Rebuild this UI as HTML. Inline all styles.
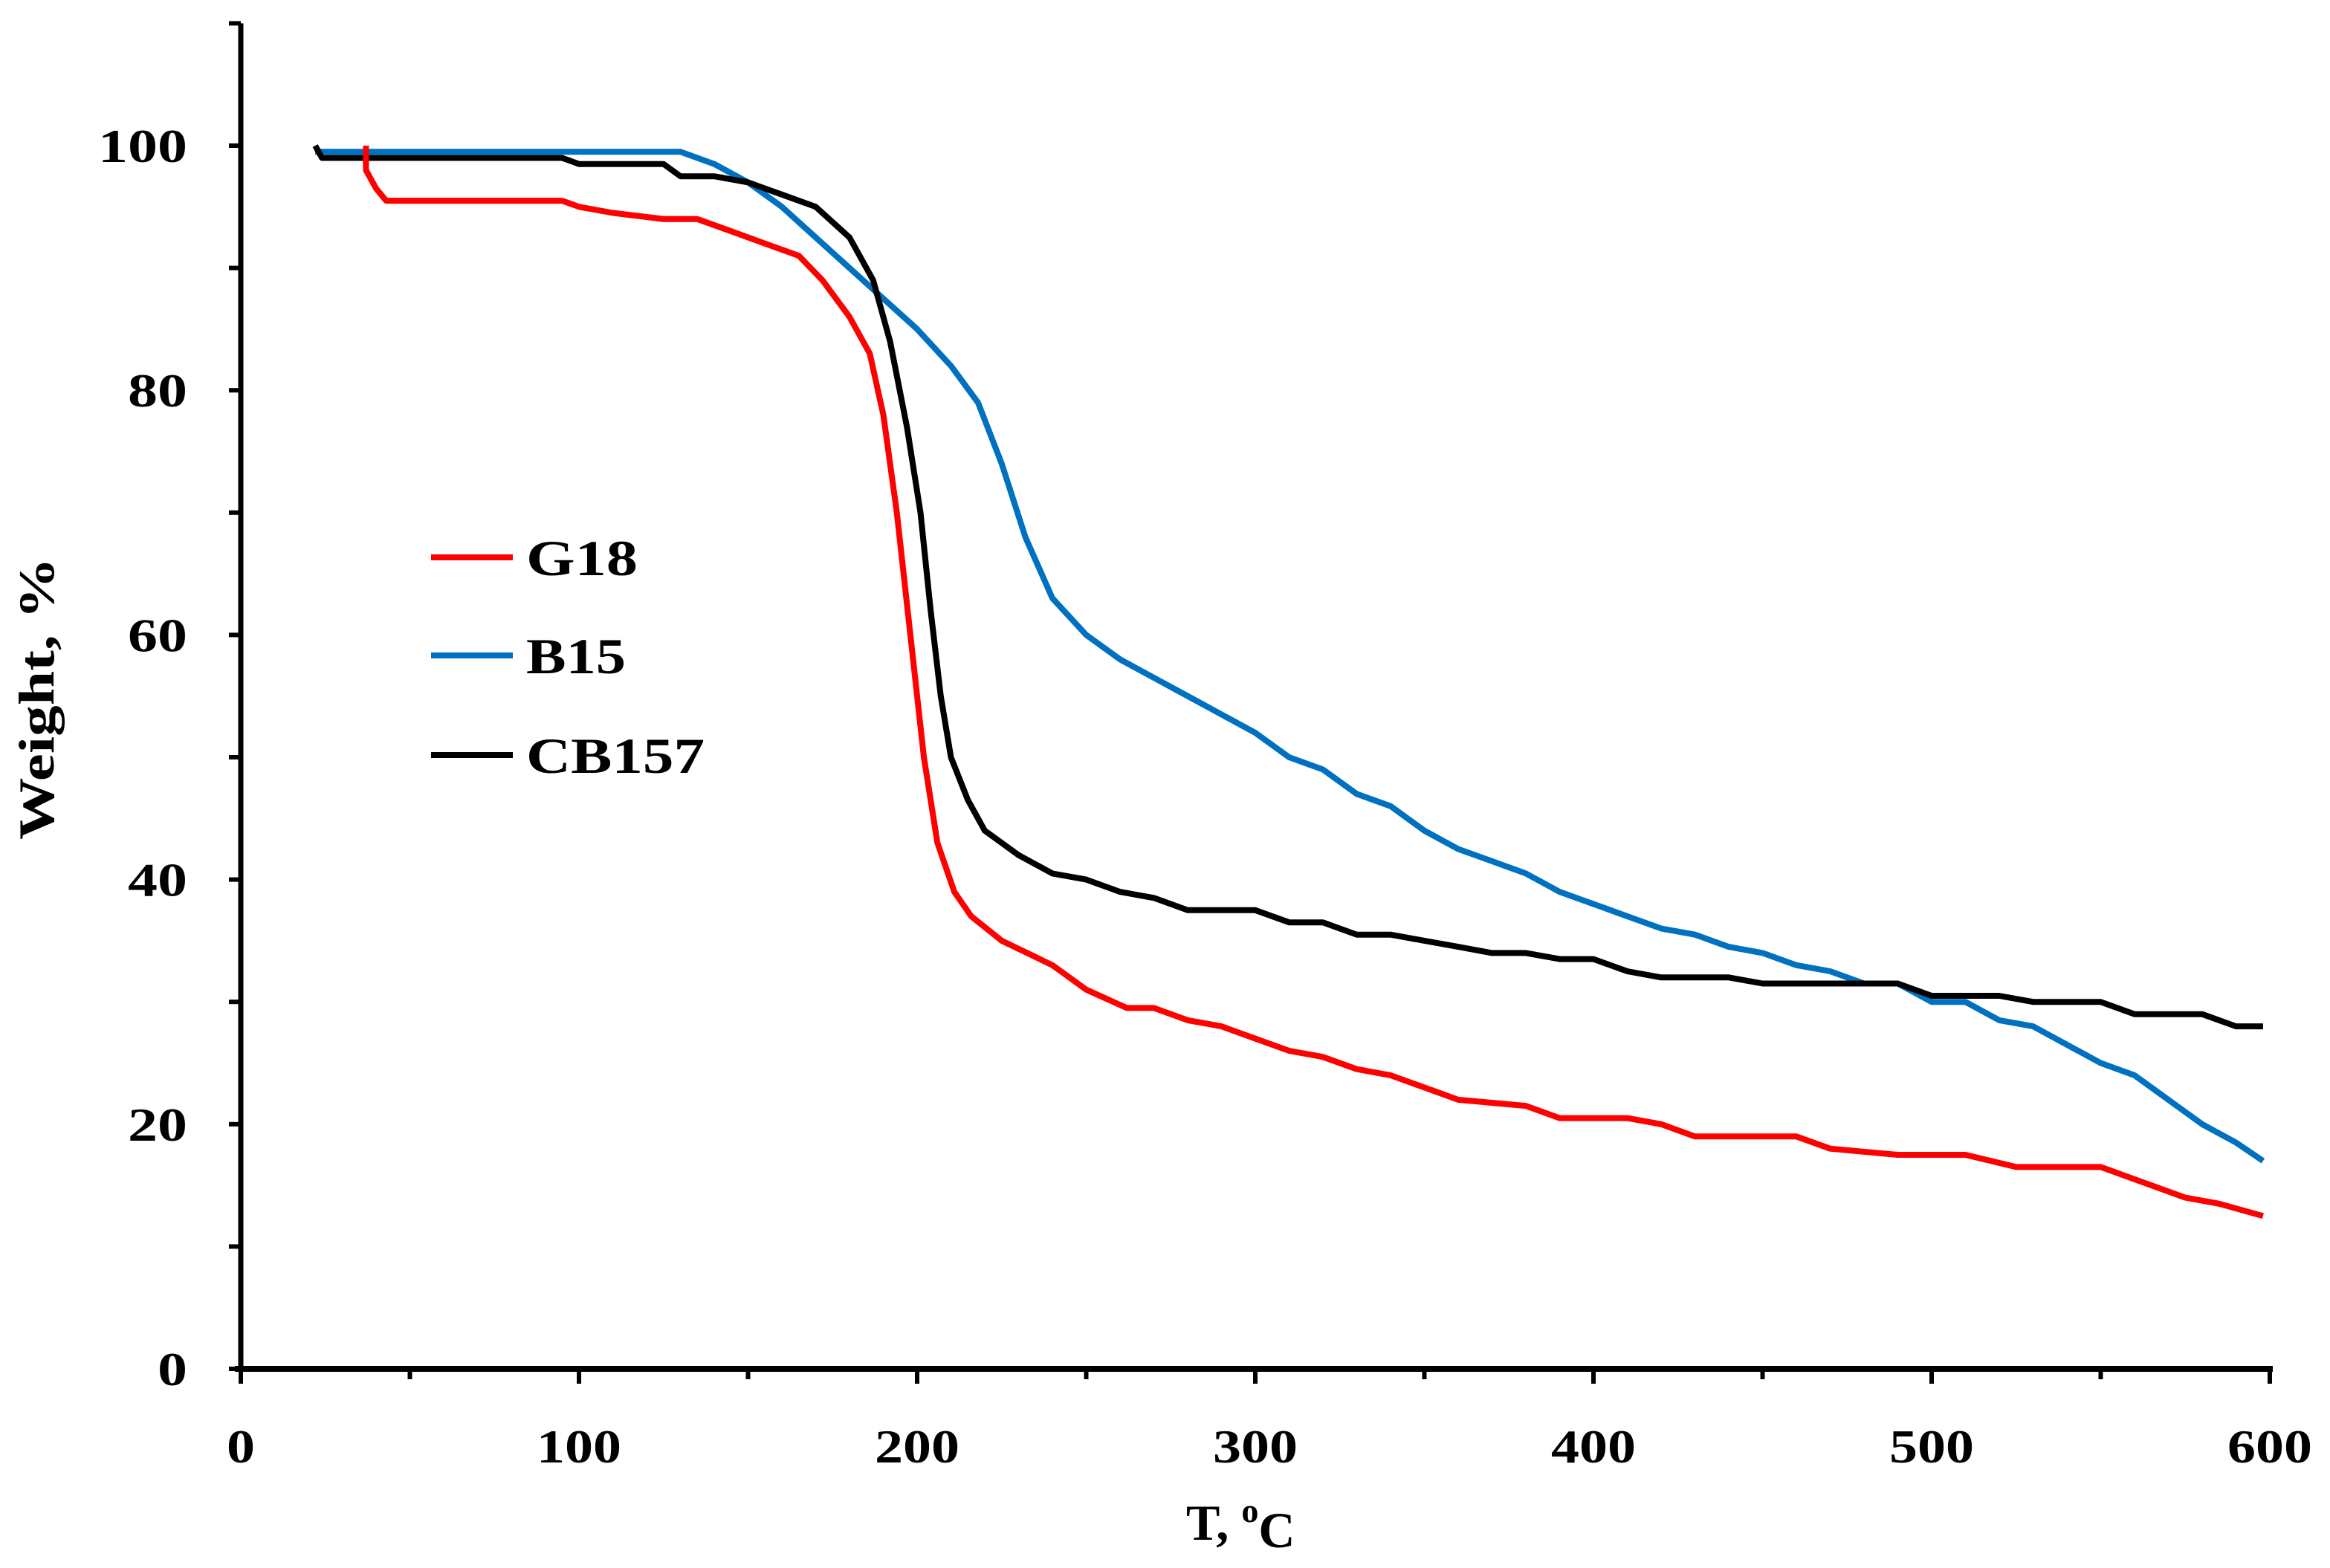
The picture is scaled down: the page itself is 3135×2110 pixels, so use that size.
<!DOCTYPE html>
<html><head><meta charset="utf-8"><style>
html,body{margin:0;padding:0;background:#fff;}
svg{display:block;}
text{font-family:"Liberation Serif",serif;font-weight:bold;fill:#000;}
</style></head><body>
<svg id="chart" width="3135" height="2110" viewBox="0 0 3135 2110">
<g id="axes"></g>
<g id="series"></g>
<g id="legend"></g>
</svg>
<script>
const xTicks=[0,100,200,300,400,500,600];
const yTicks=[0,20,40,60,80,100];
const seriesNames=["G18","B15","CB157"];
const seriesColors=["#ff0000","#0070c0","#000000"];
const g18T=[37,37,40,43,95,100,110,125,135,145,155,165,172,180,186,190,194,198,202,206,211,216,225,240,250,262,270,280,290,300,310,320,330,340,350,360,380,390,410,420,430,460,470,490,510,525,550,560,575,585,598];
const g18W=[100,98,96.5,95.5,95.5,95,94.5,94,94,93,92,91,89,86,83,78,70,60,50,43,39,37,35,33,31,29.5,29.5,28.5,28,27,26,25.5,24.5,24,23,22,21.5,20.5,20.5,20,19,19,18,17.5,17.5,16.5,16.5,15.5,14,13.5,12.5];
const b15T=[22,130,140,150,160,170,180,190,200,210,218,225,232,240,250,260,270,280,290,300,310,320,330,340,350,360,370,380,390,400,410,420,430,440,450,460,470,480,490,500,510,520,530,540,550,560,570,580,590,598];
const b15W=[99.5,99.5,98.5,97,95,92.5,90,87.5,85,82,79,74,68,63,60,58,56.5,55,53.5,52,50,49,47,46,44,42.5,41.5,40.5,39,38,37,36,35.5,34.5,34,33,32.5,31.5,31.5,30,30,28.5,28,26.5,25,24,22,20,18.5,17];
const cbT=[22,24,95,100,125,130,140,150,160,170,180,187,192,197,201,204,207,210,215,220,230,240,250,260,270,280,300,310,320,330,340,350,360,370,380,390,400,410,420,440,450,490,500,520,530,550,560,580,590,598];
const cbW=[100,99,99,98.5,98.5,97.5,97.5,97,96,95,92.5,89,84,77,70,62,55,50,46.5,44,42,40.5,40,39,38.5,37.5,37.5,36.5,36.5,35.5,35.5,35,34.5,34,34,33.5,33.5,32.5,32,32,31.5,31.5,30.5,30.5,30,30,29,29,28,28];

const NS="http://www.w3.org/2000/svg";
const X0=324,X1=3054,Y0=1842,Y100=196;
const sx=v=>X0+(X1-X0)*v/600;
const sy=v=>Y0-(Y0-Y100)*v/100;
function mk(tag,attrs,parent){const e=document.createElementNS(NS,tag);for(const k in attrs)e.setAttribute(k,attrs[k]);parent.appendChild(e);return e;}
const axes=document.getElementById('axes');
let yAxis=mk('line',{x1:X0,y1:sy(110),x2:X0,y2:Y0,stroke:'#000','stroke-width':7},axes);


let xAxis=mk('line',{x1:X0-8,y1:Y0,x2:X1+4,y2:Y0,stroke:'#000','stroke-width':8},axes);


for(let v=0;v<=110;v+=10){
 let t=mk('line',{x1:X0-16,y1:sy(v),x2:X0,y2:sy(v),stroke:'#000','stroke-width':6},axes);
 
 
}
for(let v=0;v<=600;v+=50){
 let t=mk('line',{x1:sx(v),y1:Y0,x2:sx(v),y2:Y0+(v%100===0?20:14),stroke:'#000','stroke-width':6},axes);
 
 
}
yTicks.forEach(v=>{
 const s=String(v);
 let t=mk('text',{x:252,y:sy(v)+22,'text-anchor':'end','font-size':64,textLength:40*s.length,lengthAdjust:'spacingAndGlyphs'},axes);
 t.textContent=s;
 
 
});
xTicks.forEach(v=>{
 const s=String(v);
 let t=mk('text',{x:sx(v),y:1968,'text-anchor':'middle','font-size':64,textLength:38*s.length,lengthAdjust:'spacingAndGlyphs'},axes);
 t.textContent=s;
 
 
});
let yt=mk('text',{x:0,y:0,'text-anchor':'middle','font-size':68,textLength:380,lengthAdjust:'spacingAndGlyphs',transform:'translate(72,940) rotate(-90)'},axes);
yt.textContent='Weight, %';


let xt=mk('text',{x:1596,y:2072,'font-size':68},axes);
xt.innerHTML='T, <tspan dy="-24" font-size="46">o</tspan><tspan dy="34">C</tspan>';



const ser=document.getElementById('series');
const data=[[g18T,g18W],[b15T,b15W],[cbT,cbW]];
const names=['series-g18','series-b15','series-cb157'];
[1,2,0].forEach(i=>{
 const [T,W]=data[i];
 const d=T.map((t,j)=>(j?'L':'M')+sx(t).toFixed(1)+','+sy(W[j]).toFixed(1)).join(' ');
 let p=mk('path',{d:d,fill:'none',stroke:seriesColors[i],'stroke-width':8,'stroke-linejoin':'round'},ser);
 
 
});
const leg=document.getElementById('legend');
const legY=[750,882,1016];
const legW=[150,134,240];
seriesNames.forEach((n,i)=>{
 let l=mk('line',{x1:580,y1:legY[i],x2:690,y2:legY[i],stroke:seriesColors[i],'stroke-width':8},leg);
 
 
 let t=mk('text',{x:708,y:legY[i]+24,'font-size':68,textLength:legW[i],lengthAdjust:'spacingAndGlyphs'},leg);
 t.textContent=n;
 
 
});
</script>
</body></html>
